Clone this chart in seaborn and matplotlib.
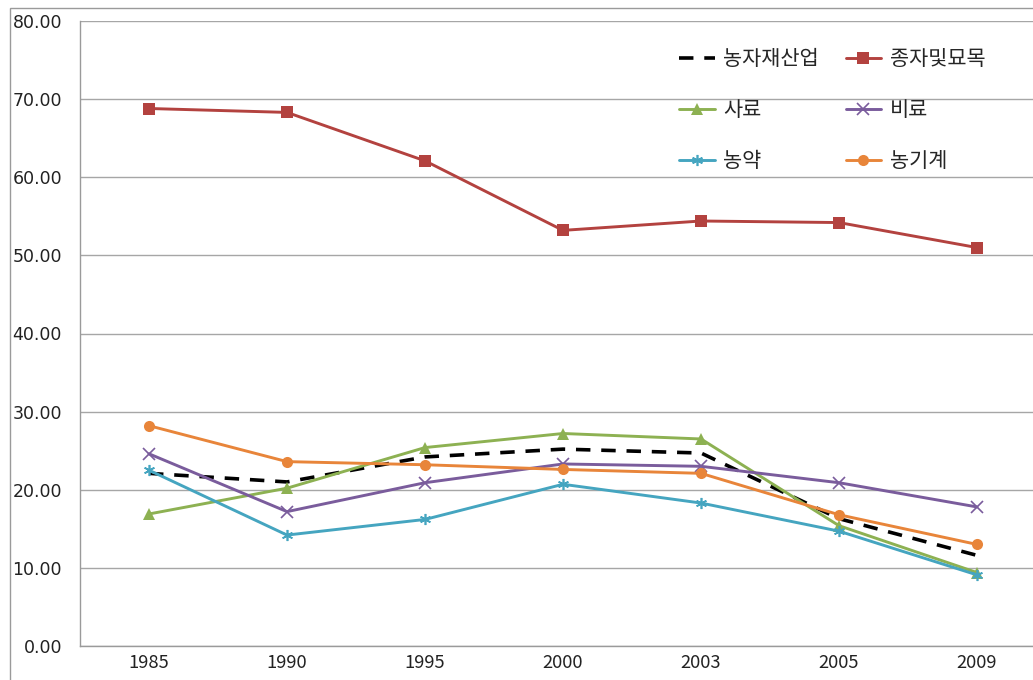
import pandas as pd
import matplotlib.pyplot as plt
import matplotlib.patches as mpatches
import seaborn as sns

# 데이터
years = ['1985', '1990', '1995', '2000', '2003', '2005', '2009']
nongjajae = [22.1, 21.0, 24.2, 25.2, 24.7, 16.3, 11.6]   # 농자재산업
jongja = [68.8, 68.3, 62.1, 53.2, 54.4, 54.2, 51.0]      # 종자및묘목
saryo = [16.9, 20.2, 25.4, 27.2, 26.5, 15.4, 9.4]        # 사료
biryo = [24.6, 17.2, 20.9, 23.3, 23.0, 20.9, 17.8]       # 비료
nongyak = [22.5, 14.2, 16.2, 20.7, 18.3, 14.7, 9.1]      # 농약
nonggigye = [28.2, 23.6, 23.2, 22.6, 22.1, 16.8, 13.0]   # 농기계

sns.set_style('white')
plt.rcParams['font.family'] = ['Noto Sans CJK KR', 'DejaVu Sans']
plt.rcParams['axes.unicode_minus'] = False

fig = plt.figure(figsize=(10.33, 6.8), dpi=100)
ax = fig.add_axes([80 / 1033, 34 / 680, 966 / 1033, 625 / 680])

series = [
    ('농자재산업', nongjajae, '#000000', None, '--'),
    ('사료', saryo, '#8DB152', '^', '-'),
    ('농약', nongyak, '#45A5C0', (6, 2, 0), '-'),
    ('종자및묘목', jongja, '#B3423F', 's', '-'),
    ('비료', biryo, '#7A5C9C', 'x', '-'),
    ('농기계', nonggigye, '#E8853A', 'o', '-'),
]

for name, vals, color, marker, ls in series:
    df = pd.DataFrame({'year': years, 'value': vals})
    lw = 2.6 if ls == '--' else 2.1
    kw = dict(linestyle=ls, linewidth=lw, color=color, label=name, sort=False, ax=ax)
    if marker is not None:
        kw.update(marker=marker, markersize=8, markeredgecolor=color,
                  markeredgewidth=1.2 if marker in ('x', (6, 2, 0)) else 0)
    sns.lineplot(data=df, x='year', y='value', **kw)

ax.lines[0].set_dashes([4, 3])

ax.set_xlim(-0.5, 6.5)
ax.set_ylim(0, 80)
ax.set_yticks(range(0, 81, 10))
ax.set_yticklabels([f'{v:.2f}' for v in range(0, 81, 10)], fontsize=12.5,
                   color='#222222', family='DejaVu Sans')
ax.set_xticks(range(len(years)))
ax.set_xticklabels(years, fontsize=13.2, color='#222222')
ax.set_xticks([i - 0.5 for i in range(len(years) + 1)], minor=True)
ax.tick_params(axis='x', which='major', length=0, pad=6)
ax.tick_params(axis='x', which='minor', length=5, color='#9A9A9A', direction='out')
ax.tick_params(axis='y', length=6, color='#9A9A9A', direction='out', pad=7)
ax.set_xlabel('')
ax.set_ylabel('')
ax.yaxis.grid(True, color='#A6A6A6', linewidth=1)
ax.set_axisbelow(True)
for s in ['top', 'right']:
    ax.spines[s].set_visible(False)
for s in ['left', 'bottom']:
    ax.spines[s].set_color('#9A9A9A')
    ax.spines[s].set_linewidth(1)

leg = ax.legend(ncol=2, loc='upper left', bbox_to_anchor=(0.601, 0.987), frameon=False,
                fontsize=15, labelspacing=1.4, columnspacing=1.3, handlelength=1.7,
                handletextpad=0.4)

# 외곽 테두리
fig.patches.append(mpatches.Rectangle((10 / 1033, -0.1), 1.2, 0.1 + (680 - 8) / 680,
                                      transform=fig.transFigure, fill=False,
                                      edgecolor='#9A9A9A', linewidth=1))

plt.savefig('out.png', dpi=100)
